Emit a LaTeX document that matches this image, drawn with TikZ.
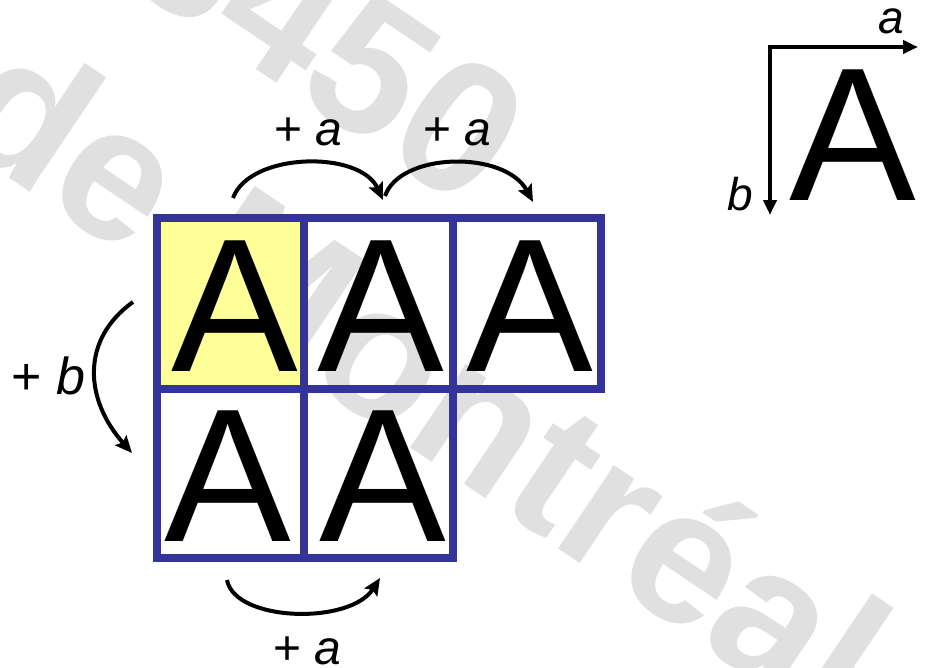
\documentclass[tikz,border=0pt]{standalone}
\usepackage{fontspec}
\setmainfont{Liberation Sans}
\usetikzlibrary{arrows.meta}
\definecolor{boxblue}{HTML}{333399}
\definecolor{boxyellow}{HTML}{FFFF99}
\definecolor{wmgray}{HTML}{E0E0E0}
\begin{document}
\begin{tikzpicture}[x=1pt,y=-1pt,
  cell/.style={rectangle, draw=boxblue, line width=8pt, inner sep=0pt},
  bigA/.style={font=\fontsize{190}{190}\selectfont, inner sep=0pt, anchor=base},
  lbl/.style={font=\fontsize{48}{48}\selectfont, inner sep=0pt, anchor=base},
  wm/.style={text=wmgray, font=\bfseries\fontsize{190}{190}\selectfont, inner sep=0pt, rotate=-34},
  jump/.style={line width=4pt, -{Stealth[length=17pt,width=15pt,inset=3pt]}},
  axis/.style={line width=4.5pt, -{Triangle[length=15pt,width=13pt]}}]
\useasboundingbox (0,0) rectangle (926,667);
\clip (0,0) rectangle (926,667);
% watermark
\node[wm, anchor=base west] (wm2) at (-56,134) {de Montréal};
\node[wm, anchor=base east] (wm1) at (467,212) {3450};
% grid of cells
\node[cell, fill=boxyellow, minimum width=146.5pt, minimum height=171pt] (c1) at (230.25,303.5) {};
\node[cell, minimum width=149pt, minimum height=171pt] (c2) at (378,303.5) {};
\node[cell, minimum width=148.5pt, minimum height=171pt] (c3) at (526.75,303.5) {};
\node[cell, minimum width=146.5pt, minimum height=169pt] (c4) at (230.25,473.5) {};
\node[cell, minimum width=149.5pt, minimum height=169pt] (c5) at (378.25,473.5) {};
\node[bigA] (A1) at (234.5,371) {A};
\node[bigA] (A2) at (381,371) {A};
\node[bigA] (A3) at (529.5,371) {A};
\node[bigA] (A4) at (228,541) {A};
\node[bigA] (A5) at (383,541) {A};
% jumps
\coordinate (p1) at (233,198);
\coordinate (p2) at (383,200);
\coordinate (p2b) at (385,196);
\coordinate (p3) at (533,202);
\coordinate (q1) at (133,302);
\coordinate (q2) at (132,453);
\coordinate (r1) at (227,580);
\coordinate (r2) at (380,578);
\draw[jump] (p1) .. controls (250,152) and (360,150) .. (p2);
\draw[jump] (p2b) .. controls (400,152) and (505,150) .. (p3);
\draw[jump] (q1) .. controls (80,340) and (85,400) .. (q2);
\draw[jump] (r1) .. controls (235,622) and (350,625) .. (r2);
\node[lbl] (la1) at (308.5,145) {+ \textit{a}};
\node[lbl] (la2) at (457.5,145) {+ \textit{a}};
\node[lbl, font=\fontsize{52}{52}\selectfont] (lb) at (48.5,394) {+ \textit{b}};
\node[lbl] (la3) at (307.5,664) {+ \textit{a}};
% reference axes
\coordinate (O) at (770,47);
\coordinate (ax) at (918,47);
\coordinate (ay) at (770,215);
\draw[axis] ([xshift=-2.25pt]O) -- (ax);
\draw[axis] (O) -- (ay);
\node[bigA] (A0) at (852.5,200) {A};
\node[lbl, font=\fontsize{46}{46}\selectfont\itshape] (axa) at (891.5,33) {a};
\node[lbl, font=\fontsize{46}{46}\selectfont\itshape] (axb) at (740,210) {b};
\end{tikzpicture}
\end{document}
